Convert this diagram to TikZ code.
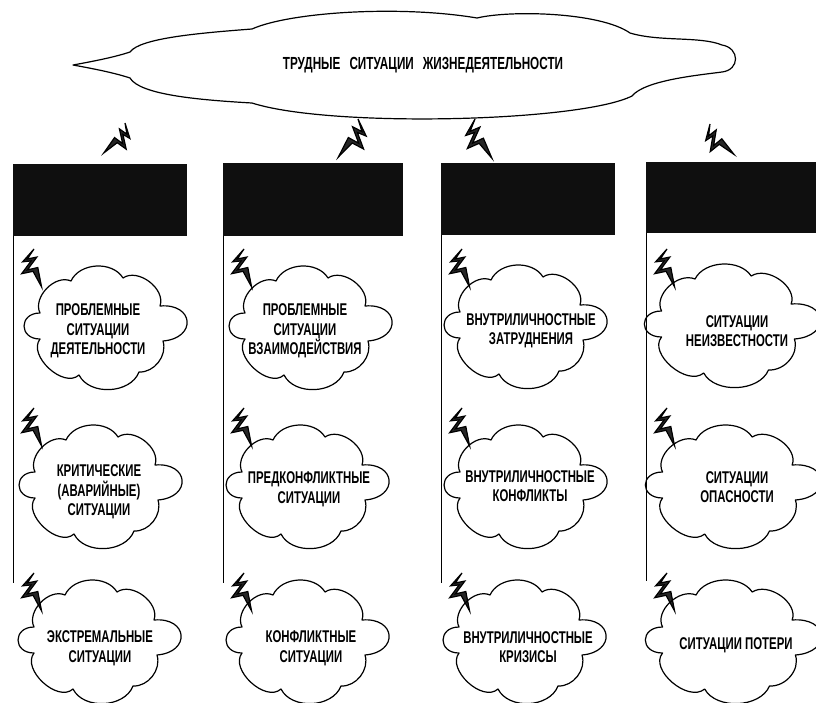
\documentclass[tikz,border=0pt]{standalone}
\usepackage{fontspec}
\setmainfont{Liberation Sans}[FakeStretch=0.67]
\begin{document}
\begin{tikzpicture}[x=1pt,y=-1pt,
  cloudline/.style={draw=black,line width=1.2pt,line join=round},
  lbl/.style={align=center,inner sep=0pt,font=\bfseries\fontsize{17}{19.5}\selectfont},
  ttl/.style={inner sep=0pt,font=\bfseries\fontsize{17.5}{19}\selectfont},
  blackbox/.style={fill=black!94,draw=none,inner sep=0pt,anchor=north west},
  stem/.style={draw=black,line width=0.9pt},
  boltshape/.style={fill=black!85,draw=black,line width=1.2pt,line join=miter},
  % small cloud outline around its centre
  smallcloud/.pic={
    \path[cloudline] (-68,8) to[bend left=90,looseness=2.1] (-68,-18)
      to[bend left=70] (-37,-50) to[bend left=62] (15,-53)
      to[bend left=72] (52,-25) to[bend left=90,looseness=2.5] (55,10)
      to[bend left=55] (31,41) to[bend left=66] (-29,44)
      to[bend left=85] (-68,8) -- cycle;
  },
  % zig-zag lightning, spike pointing down and to the right
  boltR/.pic={
    \path[boltshape] (0,0) -- (-7,10.5) -- (3,8.5) -- (-7,22) -- (4,19.5) -- (8,40)
      -- (-1,23.5) -- (-13,26) -- (-3,12.5) -- (-12,13.5) -- cycle;
  },
  % the same lightning, mirrored: spike pointing down and to the left
  boltL/.pic={
    \path[boltshape] (0,0) -- (7,10.5) -- (-3,8.5) -- (7,22) -- (-4,19.5) -- (-8,40)
      -- (1,23.5) -- (13,26) -- (3,12.5) -- (12,13.5) -- cycle;
  }
]
\useasboundingbox (0,0) rectangle (816,702);

% ---- main cloud ----
\path[cloudline] (73,65) .. controls (95,61) and (115,57) .. (130,52)
  .. controls (140,38) and (200,33) .. (252,29)
  .. controls (290,12) and (400,5) .. (477,18)
  .. controls (510,10) and (600,12) .. (630,33)
  .. controls (660,42) and (700,36) .. (722,45)
  .. controls (740,48) and (740,70) .. (722,72)
  .. controls (700,75) and (645,80) .. (632,96)
  .. controls (580,122) and (330,128) .. (252,103)
  .. controls (200,100) and (140,95) .. (130,78)
  .. controls (115,73) and (95,69) .. (73,65) -- cycle;
\node[ttl] (title) at (423,65) {ТРУДНЫЕ\hspace{9pt}СИТУАЦИИ\hspace{9pt}ЖИЗНЕДЕЯТЕЛЬНОСТИ};

% ---- lightning under the main cloud ----
\pic[rotate=-24,scale=0.9] at (125,123) {boltL};
\pic[rotate=-16,scale=1.05] at (358,119) {boltL};
\pic[rotate=12,scale=1.05] at (475,119) {boltR};
\pic[rotate=27,scale=0.95] at (710,124) {boltR};

% ---- column headers ----
\node[blackbox,minimum width=174pt,minimum height=72pt] (b1) at (13,164) {};
\node[blackbox,minimum width=180pt,minimum height=73pt] (b2) at (223,163) {};
\node[blackbox,minimum width=174pt,minimum height=72pt] (b3) at (441,163) {};
\node[blackbox,minimum width=180pt,minimum height=71pt] (b4) at (646,162) {};

\coordinate (s1) at (13,583);
\coordinate (s2) at (223,583);
\coordinate (s3) at (441,583);
\coordinate (s4) at (646,581);
\draw[stem] (b1.south west) -- (s1);
\draw[stem] (b2.south west) -- (s2);
\draw[stem] (b3.south west) -- (s3);
\draw[stem] (b4.south west) -- (s4);

% ---- small lightning beside every cloud ----
\foreach \lx in {13,223,441,646}{
  \foreach \ty in {249,408,573}{
    \pic[scale=0.95] at (\lx+21,\ty) {boltR};
  }
}

% ---- clouds, row 1 ----
\pic at (108,331) {smallcloud};
\pic at (313,331) {smallcloud};
\pic at (528,330) {smallcloud};
\pic[xscale=1.08] at (735,329) {smallcloud};
\node[lbl] (c11) at (98,331) {ПРОБЛЕМНЫЕ\\СИТУАЦИИ\\ДЕЯТЕЛЬНОСТИ};
\node[lbl] (c21) at (305,331) {ПРОБЛЕМНЫЕ\\СИТУАЦИИ\\ВЗАИМОДЕЙСТВИЯ};
\node[lbl] (c31) at (531,331) {ВНУТРИЛИЧНОСТНЫЕ\\ЗАТРУДНЕНИЯ};
\node[lbl] (c41) at (737,331) {СИТУАЦИИ\\НЕИЗВЕСТНОСТИ};

% ---- clouds, row 2 ----
\pic at (103,490) {smallcloud};
\pic at (310,490) {smallcloud};
\pic at (528,490) {smallcloud};
\pic[xscale=1.08] at (736,490) {smallcloud};
\node[lbl] (c12) at (99,492) {КРИТИЧЕСКИЕ\\(АВАРИЙНЫЕ)\\СИТУАЦИИ};
\node[lbl] (c22) at (309,489) {ПРЕДКОНФЛИКТНЫЕ\\СИТУАЦИИ};
\node[lbl] (c32) at (530,486) {ВНУТРИЛИЧНОСТНЫЕ\\КОНФЛИКТЫ};
\node[lbl] (c42) at (737,487) {СИТУАЦИИ\\ОПАСНОСТИ};

% ---- clouds, row 3 ----
\pic at (102,645) {smallcloud};
\pic at (310,645) {smallcloud};
\pic at (527,645) {smallcloud};
\pic[xscale=1.08] at (736,645) {smallcloud};
\node[lbl] (c13) at (100,648) {ЭКСТРЕМАЛЬНЫЕ\\СИТУАЦИИ};
\node[lbl] (c23) at (311,648) {КОНФЛИКТНЫЕ\\СИТУАЦИИ};
\node[lbl] (c33) at (528,647) {ВНУТРИЛИЧНОСТНЫЕ\\КРИЗИСЫ};
\node[lbl] (c43) at (736,645) {СИТУАЦИИ ПОТЕРИ};
\end{tikzpicture}
\end{document}
